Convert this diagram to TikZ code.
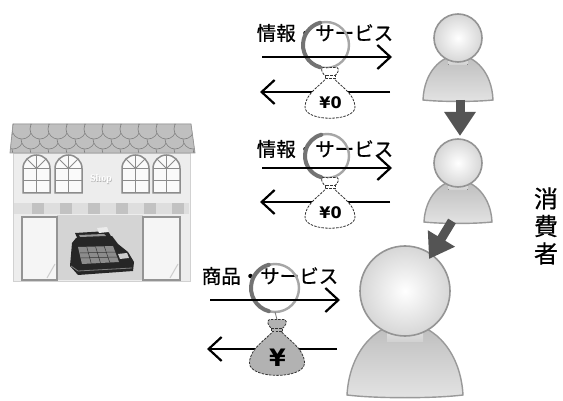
\documentclass[tikz,border=0pt]{standalone}
\usepackage{fontspec}
\newfontfamily\jpfont{Noto Sans CJK JP}[FakeBold=0.6]
\newfontfamily\yenfont{DejaVu Sans}
\newfontfamily\shopfont{Liberation Serif}
\usetikzlibrary{arrows.meta,calc}

% consumer figure: #1 name, #2 cx, #3 cy, #4 head radius, #5 half width of base, #6 base y
\newcommand\drawperson[6]{%
  \path[personbody] ({#2-#5},#6)
    .. controls ({#2-#5+0.05*#4},{#3+1.4*#4}) and ({#2-0.7*#4},{#3+0.75*#4}) .. (#2,{#3+0.7*#4})
    .. controls ({#2+0.7*#4},{#3+0.75*#4}) and ({#2+#5-0.05*#4},{#3+1.4*#4}) .. ({#2+#5},#6)
    .. controls ({#2+0.5*#5},{#6+0.08*#4}) and ({#2-0.5*#5},{#6+0.08*#4}) .. cycle;
  \fill[neck] ({#2-0.4*#4},{#3+0.7*#4}) rectangle ({#2+0.4*#4},{#3+1.12*#4});
  \node[head, minimum size={2*#4*1pt}] (#1) at (#2,#3) {};
}

% money bag hanging from its tie point: #1 name, #2 x, #3 y, #4 scale, #5 fill, #6 label
\newcommand\moneybag[6]{%
  \begin{scope}[shift={(#2,#3)}, scale=#4]
    \path[bagline, fill=#5] (-3,0) .. controls (-7,7) and (-25,16) .. (-25,30)
      .. controls (-25,45) and (25,45) .. (25,30) .. controls (25,16) and (7,7) .. (3,0) -- cycle;
    \path[bagline, fill=#5] (-3,0) .. controls (-8,-3) and (-10,-8) .. (-7,-9.5) -- (7,-9.5)
      .. controls (10,-8) and (8,-3) .. (3,0) -- cycle;
    \path[bagline, fill=#5] (-5,-1.5) rectangle (5,1.5);
    \coordinate (#1top) at (0,-9.5);
    \node (#1) at (0.5,25.5) {#6};
  \end{scope}}

% arched shop window with left edge at #1
\newcommand\archwin[1]{%
  \filldraw[winframe] (#1,193) -- (#1,168.5) arc[start angle=180,end angle=360,radius=13.5] -- ({#1+27},193) -- cycle;
  \draw[winbar] ({#1+13.5},155) -- ({#1+13.5},193);
  \draw[winbar] (#1,168.5) -- ({#1+27},168.5);
  \draw[winbar] (#1,181) -- ({#1+27},181);
  \draw[winbar] ({#1+13.5},168.5) -- ++(225:13.5);
  \draw[winbar] ({#1+13.5},168.5) -- ++(315:13.5);
}

% drawstring ring of a bag
\newcommand\bagring[4]{% #1 name of bottom point, #2 cx, #3 cy, #4 radius
  \draw[ringlight] (#2,#3) circle (#4);
  \draw[ringdark] (#2,#3) ++(105:#4) arc (105:255:#4);
  \coordinate (#1) at (#2,{#3+#4});
}

\begin{document}
\begin{tikzpicture}[x=1pt,y=-1pt,
  personbody/.style={top color=black!26, bottom color=black!11, draw=black!40, line width=1.4pt},
  neck/.style={top color=black!8, bottom color=black!18},
  head/.style={circle, inner sep=0pt, inner color=white, outer color=black!16, draw=black!42, line width=1.6pt},
  blockarrow/.style={draw=black!67, line width=9pt, -{Triangle[length=24pt,width=30pt]}},
  flow/.style={line width=2.2pt, -{Straight Barb[length=13pt,width=24pt]}},
  jplabel/.style={font=\jpfont\fontsize{19.5}{20}\selectfont, inner sep=0pt},
  bagline/.style={draw=black!80, line width=0.8pt, dash pattern=on 2.5pt off 1.2pt},
  bagstring/.style={draw=black!55, line width=0.8pt},
  ringlight/.style={draw=black!35, line width=2.4pt},
  ringdark/.style={draw=black!55, line width=4pt, line cap=round},
  winframe/.style={fill=black!2, draw=black!45, line width=1.5pt},
  winbar/.style={draw=black!45, line width=1pt},
  tile/.style={fill=black!25, draw=black!50, line width=0.6pt},
  door/.style={fill=black!4, draw=black!42, line width=1.2pt},
]
\useasboundingbox[fill=white] (0,0) rectangle (563,401);

% ---------- shop ----------
\filldraw[fill=black!7, draw=black!18, line width=0.8pt] (13,153) rectangle (190,281);
\begin{scope}
  \clip (10,153) -- (13,124) -- (191,124) -- (195,153) -- cycle;
  \fill[black!35] (0,120) rectangle (200,160);
  \foreach \yy/\off in {149/0,139/9,129/0}{
    \foreach \k in {0,...,10}{
      \filldraw[tile] ({4+\off+18*\k},\yy) circle (10);
    }
  }
\end{scope}
\draw[black!40, line width=0.8pt] (10,153) -- (13,124) -- (191,124) -- (195,153) -- cycle;

\archwin{23}
\archwin{55}
\archwin{122}
\archwin{153}
\node[font=\shopfont\bfseries\fontsize{10}{10}\selectfont, text=black!30] (shopshade) at (101.6,179.6) {Shop};
\node[font=\shopfont\bfseries\fontsize{10}{10}\selectfont, text=white] (shopname) at (101,179) {Shop};

\fill[black!13] (14,203) rectangle (189,214);
\foreach \c in {37.5,65.5,93.5,121.5,149.5,177.5}{
  \fill[black!24] ({\c-6},203) rectangle ({\c+6},214);
}
\fill[black!17] (57,215) rectangle (143,280);
\filldraw[door] (22,217) rectangle (57,280);
\filldraw[door] (143,217) rectangle (180,280);
\draw[black!20, line width=1pt] (47,278) -- (55,264);
\draw[black!20, line width=1pt] (170,278) -- (178,264);

% cash register
\fill[black!85] (72,243) -- (76,238) -- (112,236) -- (118,244) -- (128,252) -- (134,262)
  -- (133,271) -- (78,275) -- (70,266) -- cycle;
\fill[black!85] (75,233) -- (108,231) -- (112,238) -- (78,240) -- cycle;
\fill[black!40] (79,235) -- (104,234) -- (106,236) -- (80,237) -- cycle;
\fill[black!8] (97,228) -- (107,227) -- (109,232) -- (99,233) -- cycle;
\fill[black!45] (78,247) -- (113,246) -- (119,262) -- (82,264) -- cycle;
\foreach \t in {0.25,0.5,0.75}{
  \draw[black!80, line width=0.5pt] ($(78,247)!\t!(113,246)$) -- ($(82,264)!\t!(119,262)$);
}
\draw[black!80, line width=0.5pt] (80,253) -- (116,252);
\draw[black!80, line width=0.5pt] (81,258) -- (117,257);
\fill[black!20] (118,254) -- (127,253) -- (129,258) -- (120,259) -- cycle;
\draw[black!50, line width=0.8pt] (71,266) -- (78,271) -- (132,268);

% ---------- consumers ----------
\drawperson{p1}{458}{38}{24}{35}{100}
\drawperson{p2}{458}{163}{24}{34}{222}
\drawperson{p3}{405}{291}{45}{58}{395}

\coordinate (d1a) at (460,100);
\coordinate (d1b) at (460,136);
\coordinate (d2a) at (452,221);
\coordinate (d2b) at (429,259);
\draw[blockarrow] (d1a) -- (d1b);
\draw[blockarrow] (d2a) -- (d2b);

\node[font=\jpfont\fontsize{24}{27.5}\selectfont, align=center, inner sep=0pt] (consumer) at (546,226) {消\\費\\者};

% ---------- exchanges ----------
\node[jplabel] (t1) at (325,33) {情報・サービス};
\node[jplabel] (t2) at (325,149) {情報・サービス};
\node[jplabel] (t3) at (270,276) {商品・サービス};

\bagring{ring1}{326}{45}{23}
\bagring{ring2}{327}{156}{22}
\bagring{ring3}{275}{288}{24}

\coordinate (r1a) at (262,57);  \coordinate (r1b) at (392,57);
\coordinate (l1a) at (390,92);  \coordinate (l1b) at (260,92);
\coordinate (r2a) at (262,168); \coordinate (r2b) at (392,168);
\coordinate (l2a) at (390,202); \coordinate (l2b) at (260,202);
\coordinate (r3a) at (210,300); \coordinate (r3b) at (340,300);
\coordinate (l3a) at (337,349); \coordinate (l3b) at (207,349);
\draw[flow] (r1a) -- (r1b);
\draw[flow] (l1a) -- (l1b);
\draw[flow] (r2a) -- (r2b);
\draw[flow] (l2a) -- (l2b);
\draw[flow] (r3a) -- (r3b);
\draw[flow] (l3a) -- (l3b);

\moneybag{bag1}{330}{77}{1}{white}{\yenfont\bfseries\fontsize{16}{16}\selectfont ¥0}
\moneybag{bag2}{330}{187}{1}{white}{\yenfont\bfseries\fontsize{16}{16}\selectfont ¥0}
\moneybag{bag3}{277}{330}{1.1}{black!30}{\yenfont\bfseries\fontsize{24}{24}\selectfont ¥}
\draw[bagstring] (ring1) -- (bag1top);
\draw[bagstring] (ring2) -- (bag2top);
\draw[bagstring] (ring3) -- (bag3top);
\end{tikzpicture}
\end{document}
